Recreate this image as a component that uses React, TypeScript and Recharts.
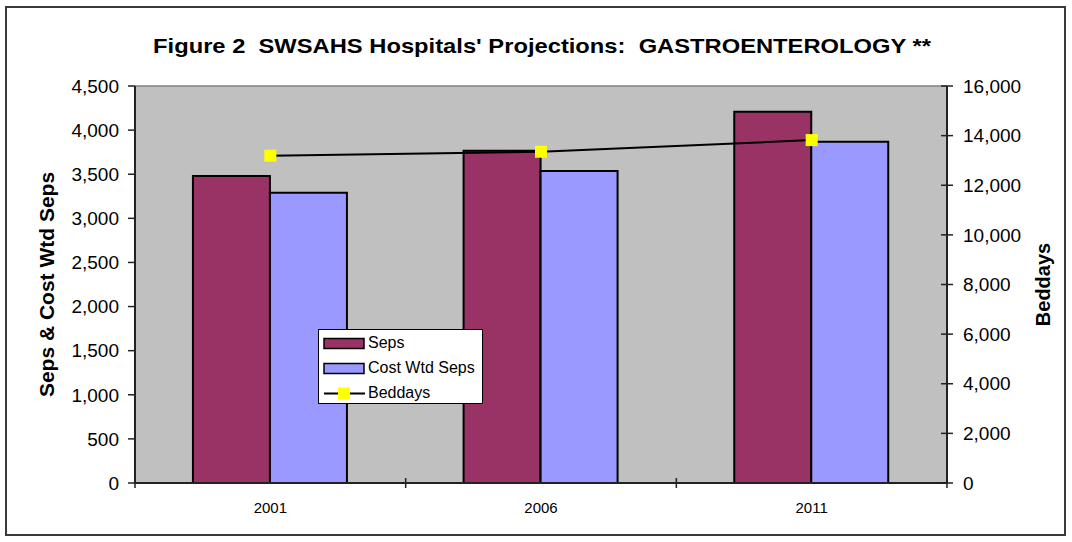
import React from 'react';
import {
  ComposedChart,
  Bar,
  Line,
  XAxis,
  YAxis,
  CartesianGrid,
  Legend,
  ReferenceLine,
} from 'recharts';

const years = ['2001', '2006', '2011'];
const seps = [3480, 3767, 4209];
const costWtdSeps = [3291, 3537, 3869];
const beddays = [13190, 13350, 13820];
const leftTicks = [0, 500, 1000, 1500, 2000, 2500, 3000, 3500, 4000, 4500];
const rightTicks = [0, 2000, 4000, 6000, 8000, 10000, 12000, 14000, 16000];

const data = years.map((y, i) => ({
  year: y,
  seps: seps[i],
  cws: costWtdSeps[i],
  beddays: beddays[i],
}));

const FONT = '"Liberation Sans", Arial, sans-serif';
const fmt = (v: number) => v.toLocaleString('en-US');

const RightTick = (props: any) => {
  const { x, y, payload } = props;
  const ax = x - 16;
  return (
    <g>
      <line x1={ax - 6} x2={ax + 6} y1={y} y2={y} stroke="#222" strokeWidth={1.5} />
      <text x={x} y={y} dy="0.355em" textAnchor="start" fontSize={19} fontFamily={FONT} fill="#000">
        {fmt(payload.value)}
      </text>
    </g>
  );
};

const XTick = (props: any) => {
  const { x, y, payload, index, visibleTicksCount, width } = props;
  const half =
    payload && typeof payload.offset === 'number' && payload.offset > 0
      ? payload.offset
      : width / (visibleTicksCount || 3) / 2;
  const ay = y - 19;
  return (
    <g>
      <line x1={x - half} x2={x - half} y1={ay - 5} y2={ay + 5} stroke="#222" strokeWidth={1.5} />
      {index === visibleTicksCount - 1 ? (
        <line x1={x + half} x2={x + half} y1={ay - 5} y2={ay + 5} stroke="#222" strokeWidth={1.5} />
      ) : null}
      <text x={x} y={y} dy="0.71em" textAnchor="middle" fontSize={15} fontFamily={FONT} fill="#000">
        {payload.value}
      </text>
    </g>
  );
};

const SquareDot = (props: any) => {
  const { cx, cy, index } = props;
  if (cx == null || cy == null) return <g key={`d${index}`} />;
  return <rect key={`d${index}`} x={cx - 6} y={cy - 6} width={12} height={12} fill="#FFFF00" />;
};

const LegendBox = () => (
  <div
    style={{
      width: 165,
      height: 75,
      boxSizing: 'border-box',
      background: '#fff',
      border: '1px solid #000',
      fontFamily: FONT,
      fontSize: 16,
      color: '#000',
      position: 'relative',
    }}
  >
    {[
      { label: 'Seps', type: 'bar', color: '#993366' },
      { label: 'Cost Wtd Seps', type: 'bar', color: '#9999FF' },
      { label: 'Beddays', type: 'line', color: '#FFFF00' },
    ].map((it, i) => (
      <div
        key={it.label}
        style={{ position: 'absolute', left: 4, top: 1 + i * 25, height: 24, display: 'flex', alignItems: 'center' }}
      >
        <svg width={44} height={24} style={{ display: 'block' }}>
          {it.type === 'bar' ? (
            <rect x={1} y={7.5} width={40} height={10} fill={it.color} stroke="#000" strokeWidth={1.5} />
          ) : (
            <g>
              <line x1={1} x2={42} y1={12.5} y2={12.5} stroke="#000" strokeWidth={2} />
              <rect x={15} y={6.5} width={12} height={12} fill={it.color} />
            </g>
          )}
        </svg>
        <span style={{ marginLeft: 1, lineHeight: '24px' }}>{it.label}</span>
      </div>
    ))}
  </div>
);

export default function App() {
  return (
    <div style={{ position: 'absolute', left: 0, top: 0, width: 1072, height: 542, background: '#fff' }}>
      <div
        style={{
          position: 'absolute',
          left: 5,
          top: 6,
          width: 1061,
          height: 530,
          boxSizing: 'border-box',
          border: '2px solid #3a3a3a',
        }}
      />
      <div
        style={{
          position: 'absolute',
          left: 0,
          width: 1084,
          top: 35,
          textAlign: 'center',
          fontFamily: FONT,
          fontWeight: 'bold',
          fontSize: 21,
          lineHeight: '21px',
          color: '#000',
          whiteSpace: 'nowrap',
          transform: 'scaleX(1.13)',
          transformOrigin: '542px 0',
        }}
      >
        Figure 2&nbsp; SWSAHS Hospitals' Projections:&nbsp; GASTROENTEROLOGY **
      </div>
      <div style={{ position: 'absolute', left: 0, top: 0 }}>
        <ComposedChart
          width={1072}
          height={542}
          data={data}
          margin={{ top: 86, right: 0, bottom: 0, left: 0 }}
          barGap={0}
          barCategoryGap="21.4%"
        >
          <CartesianGrid horizontal={false} vertical={false} fill="#C0C0C0" stroke="none" yAxisId="left" />
          <XAxis
            dataKey="year"
            height={59}
            axisLine={{ stroke: '#222', strokeWidth: 2 }}
            tickLine={false}
            tickSize={5}
            tickMargin={14}
            tick={<XTick />}
            interval={0}
          />
          <YAxis
            yAxisId="left"
            orientation="left"
            width={135}
            domain={[0, 4500]}
            ticks={leftTicks}
            interval={0}
            tickFormatter={fmt}
            axisLine={{ stroke: '#222', strokeWidth: 2 }}
            tickLine={{ stroke: '#222', strokeWidth: 1.5 }}
            tickSize={7}
            tickMargin={9}
            tick={{ fontSize: 19, fontFamily: FONT, fill: '#000' }}
            label={{
              value: 'Seps & Cost Wtd Seps',
              angle: -90,
              position: 'insideLeft',
              offset: 47,
              style: { textAnchor: 'middle', fontFamily: FONT, fontWeight: 'bold', fontSize: 21, fill: '#000' },
            }}
          />
          <YAxis
            yAxisId="right"
            orientation="right"
            width={125}
            domain={[0, 16000]}
            ticks={rightTicks}
            interval={0}
            axisLine={{ stroke: '#222', strokeWidth: 2 }}
            tickLine={false}
            tickSize={6}
            tickMargin={10}
            tick={<RightTick />}
            label={{
              value: 'Beddays',
              angle: -90,
              position: 'insideRight',
              offset: 29,
              style: { textAnchor: 'middle', fontFamily: FONT, fontWeight: 'bold', fontSize: 20, fill: '#000' },
            }}
          />
          <ReferenceLine yAxisId="left" y={4500} stroke="#808080" strokeWidth={1.5} />
          <Bar
            yAxisId="left"
            dataKey="seps"
            name="Seps"
            fill="#993366"
            stroke="#000"
            strokeWidth={2}
            isAnimationActive={false}
          />
          <Bar
            yAxisId="left"
            dataKey="cws"
            name="Cost Wtd Seps"
            fill="#9999FF"
            stroke="#000"
            strokeWidth={2}
            isAnimationActive={false}
          />
          <Line
            yAxisId="right"
            dataKey="beddays"
            name="Beddays"
            type="linear"
            stroke="#000"
            strokeWidth={2}
            dot={SquareDot}
            activeDot={false}
            isAnimationActive={false}
          />
          <Legend
            layout="vertical"
            align="center"
            verticalAlign="middle"
            content={<LegendBox />}
            wrapperStyle={{ left: 318, top: 329, width: 165, height: 75 }}
          />
        </ComposedChart>
      </div>
    </div>
  );
}
